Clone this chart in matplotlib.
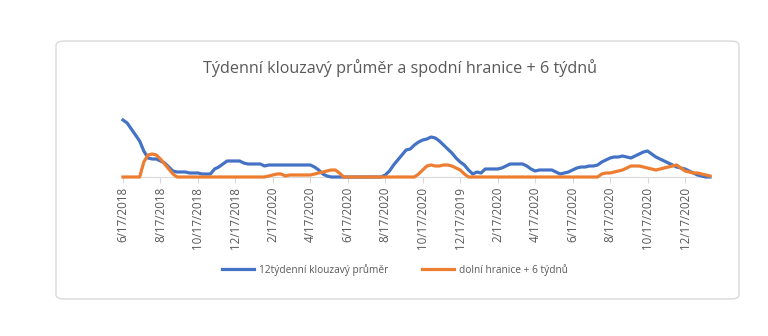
import numpy as np
import matplotlib
matplotlib.use('Agg')
import matplotlib.pyplot as plt
from matplotlib.patches import FancyBboxPatch

plt.rcParams['font.family'] = ['Open Sans', 'DejaVu Sans']

tick_labels = ['6/17/2018', '8/17/2018', '10/17/2018', '12/17/2018', '2/17/2020',
               '4/17/2020', '6/17/2020', '8/17/2020', '10/17/2020', '12/17/2019',
               '2/17/2020', '4/17/2020', '6/17/2020', '8/17/2020', '10/17/2020',
               '12/17/2020']

# 12 week moving average
prumer = [57, 54, 48, 42, 36, 26, 19, 18, 18, 16, 14, 10, 6, 5, 5, 5, 4, 4, 4, 3,
          3, 3, 8, 10, 13, 16, 16, 16, 16, 14, 13, 13, 13, 13, 11, 12, 12, 12, 12, 12,
          12, 12, 12, 12, 12, 12, 10, 7, 3, 1, 0, 0, 0, 0, 0, 0, 0, 0, 0, 0,
          0, 0, 0, 2, 6, 12, 17, 22, 27, 28, 32, 35, 37, 38, 40, 39, 36, 32, 28, 24,
          19, 15, 12, 7, 3, 5, 4, 8, 8, 8, 8, 9, 11, 13, 13, 13, 13, 11, 8, 6,
          7, 7, 7, 7, 5, 3, 4, 5, 7, 9, 10, 10, 11, 11, 12, 15, 17, 19, 20, 20,
          21, 20, 19, 21, 23, 25, 26, 23, 20, 18, 16, 14, 12, 10, 9, 8, 6, 4, 2, 1,
          0, 0]

# lower bound + 6 weeks
hranice = [0, 0, 0, 0, 0, 15, 22, 23, 22, 18, 13, 8, 3, 0, 0, 0, 0, 0, 0, 0,
           0, 0, 0, 0, 0, 0, 0, 0, 0, 0, 0, 0, 0, 0, 0, 1, 2, 3, 3, 1,
           2, 2, 2, 2, 2, 2, 3, 4, 5, 6, 7, 7, 4, 0, 0, 0, 0, 0, 0, 0,
           0, 0, 0, 0, 0, 0, 0, 0, 0, 0, 0, 3, 7, 11, 12, 11, 11, 12, 12, 11,
           9, 7, 3, 0, 0, 0, 0, 0, 0, 0, 0, 0, 0, 0, 0, 0, 0, 0, 0, 0,
           0, 0, 0, 0, 0, 0, 0, 0, 0, 0, 0, 0, 0, 0, 0, 3, 4, 4, 5, 6,
           7, 9, 11, 11, 11, 10, 9, 8, 7, 8, 9, 10, 11, 12, 9, 6, 5, 4, 4, 3,
           2, 1]

x = np.arange(len(prumer))

fig = plt.figure(figsize=(7.68, 3.36), dpi=100)

# rounded frame around the chart
frame = FancyBboxPatch((56 / 768, 1 - 299 / 336), 683 / 768, 258 / 336,
                       boxstyle='round,pad=0,rounding_size=0.012',
                       transform=fig.transFigure, facecolor='white',
                       edgecolor='#d9d9d9', linewidth=1.0, zorder=-1)
fig.patches.append(frame)

ax = fig.add_axes([123 / 768, 1 - 177 / 336, 587 / 768, 60 / 336])
ax.patch.set_alpha(0)

ax.plot(x, prumer, color='#4472C4', lw=2.3, clip_on=False, label='12týdenní klouzavý průměr',
        solid_joinstyle='round', zorder=3)
ax.plot(x, hranice, color='#ED7D31', lw=2.3, clip_on=False, label='dolní hranice + 6 týdnů',
        solid_joinstyle='round', zorder=4)

ax.set_xlim(0, len(prumer) - 1)
ax.set_ylim(0, 60)
ax.set_xticks(np.arange(0, len(prumer), 9))
ax.set_xticklabels(tick_labels, rotation=90, fontsize=8.4, color='#595959')
ax.tick_params(axis='x', length=4, color='#d9d9d9', pad=3)
ax.set_yticks([])
for s in ['top', 'right', 'left']:
    ax.spines[s].set_visible(False)
ax.spines['bottom'].set_color('#d9d9d9')
ax.spines['bottom'].set_zorder(1)

fig.text(400 / 768, 1 - 68 / 336, 'Týdenní klouzavý průměr a spodní hranice + 6 týdnů',
         ha='center', va='center', fontsize=11.6, color='#595959')

fig.legend(loc='center', bbox_to_anchor=(395 / 768, 1 - 270 / 336), ncol=2, frameon=False,
           fontsize=7.3, handlelength=3.2, handletextpad=0.5, columnspacing=3.3,
           labelcolor='#595959')

fig.savefig('out.png', dpi=100)
